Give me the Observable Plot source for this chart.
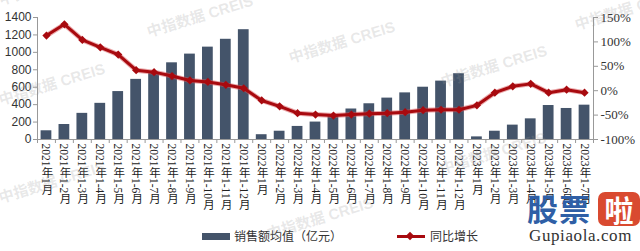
<!DOCTYPE html>
<html><head><meta charset="utf-8">
<script src="https://cdn.jsdelivr.net/npm/d3@7"></script>
<script src="https://cdn.jsdelivr.net/npm/@observablehq/plot@0.6"></script>
<style>
body{margin:0;background:#fff;width:640px;height:251px;overflow:hidden;position:relative;font-family:"Liberation Serif","Noto Sans CJK SC",serif}
#chart svg{display:block}
#legend{position:absolute;left:0;top:222px;width:640px;height:29px;font-size:12px;color:#333}
.sw{position:absolute}
.wm{position:absolute;white-space:nowrap;font:bold 15px "Liberation Sans","Noto Sans CJK SC",sans-serif;color:rgba(150,150,150,0.22);transform:rotate(-17deg);transform-origin:left bottom;pointer-events:none}
#logo{position:absolute;left:527px;top:191px;width:113px;height:58px}
</style></head><body>
<div id="chart"></div>
<div id="legend">
  <div class="sw" style="left:202px;top:11px;width:28px;height:7px;background:#44546A"></div>
  <div class="sw" style="left:234px;top:5px;">销售额均值（亿元）</div>
  <div class="sw" style="left:397px;top:13px;width:28px;height:3px;background:#a80a0f"></div>
  <div class="sw" style="left:407px;top:10.5px;width:6px;height:6px;background:#a80a0f;transform:rotate(45deg)"></div>
  <div class="sw" style="left:430px;top:5px;">同比增长</div>
</div>
<div class="wm" style="left:150px;top:20px">中指数据 CREIS</div>
<div class="wm" style="left:2px;top:-12px">中指数据 CREIS</div>
<div class="wm" style="left:2px;top:88px">中指数据 CREIS</div>
<div class="wm" style="left:292px;top:46px">中指数据 CREIS</div>
<div class="wm" style="left:444px;top:70px">中指数据 CREIS</div>
<div class="wm" style="left:578px;top:13px">中指数据 CREIS</div>
<div class="wm" style="left:2px;top:186px">中指数据 CREIS</div>
<div class="wm" style="left:443px;top:157px">中指数据 CREIS</div>
<div class="wm" style="left:270px;top:222px">中指数据 CREIS</div>
<div id="logo">
  <div style="position:absolute;left:0;top:0;font:bold 31px 'Noto Sans CJK SC',sans-serif;color:#2f5fa6;line-height:34px;letter-spacing:1px">股票</div>
  <div style="position:absolute;left:71px;top:1px;width:42px;height:34px;background:#d94a30;border-radius:7px;color:#fff;font:bold 29px 'Noto Sans CJK SC',sans-serif;line-height:34px;text-align:center">啦</div>
  <div style="position:absolute;left:2px;top:35px;font:17px 'Liberation Serif',serif;color:#333;letter-spacing:0.6px">Gupiaola.com</div>
</div>
<script>
const categories = [
  "2021年1月","2021年1-2月","2021年1-3月","2021年1-4月","2021年1-5月","2021年1-6月",
  "2021年1-7月","2021年1-8月","2021年1-9月","2021年1-10月","2021年1-11月","2021年1-12月",
  "2022年1月","2022年1-2月","2022年1-3月","2022年1-4月","2022年1-5月","2022年1-6月",
  "2022年1-7月","2022年1-8月","2022年1-9月","2022年1-10月","2022年1-11月","2022年1-12月",
  "2023年1月","2023年1-2月","2023年1-3月","2023年1-4月","2023年1-5月","2023年1-6月","2023年1-7月"
];
const sales = [100,172,300,415,550,690,770,880,980,1060,1150,1260,
               55,95,150,200,275,350,410,475,535,600,670,755,
               30,95,165,237,390,356,394];
const growth = [113,136,104,89,74,42,38,30,21,18,12,5,
                -20,-32,-46,-49,-51,-49,-47,-46,-44,-40,-39,-39,
                -30,-4,9,14,-4,2,-4];
const leftTicks = [0,200,400,600,800,1000,1200,1400];
const pctTicks = [-100,-50,0,50,100,150];

const toL = p => (p + 100) / 250 * 1400;
const fromL = v => Math.round(v / 1400 * 250 - 100);
const idx = d3.range(categories.length);
const n = categories.length;
const axisColor = "#999";
const red = "#a80a0f";

const svg = Plot.plot({
  width: 640, height: 222,
  marginLeft: 37, marginRight: 47, marginTop: 17, marginBottom: 83,
  x: {type: "linear", domain: [-0.5, n - 0.5], axis: null},
  y: {domain: [0, 1400], axis: null},
  style: {fontFamily: "'Liberation Serif','Noto Sans CJK SC',serif", fontSize: "12px", color: "#333", background: "#fff"},
  marks: [
    Plot.rectY(idx, {x1: i => i - 0.3, x2: i => i + 0.3, y: i => sales[i], fill: "#44546A"}),
    Plot.ruleY([0], {x1: -0.5, x2: n - 0.5, stroke: axisColor}),
    Plot.ruleX([-0.5, n - 0.5], {y1: 0, y2: 1400, stroke: axisColor}),
    Plot.ruleX(d3.range(n + 1), {x: i => i - 0.5, y1: 0, y2: -46, stroke: axisColor}),
    Plot.axisY({anchor: "left", ticks: leftTicks, tickFormat: d => String(d), tickSize: 4, tickPadding: 2, stroke: axisColor}),
    Plot.axisY({anchor: "right", ticks: pctTicks.map(toL), tickFormat: v => fromL(v) + "%", tickSize: 4, tickPadding: 3, stroke: axisColor}),
    Plot.line(idx, {x: i => i, y: i => toL(growth[i]), stroke: "#d8555a", strokeWidth: 5, strokeOpacity: 0.5}),
    Plot.line(idx, {x: i => i, y: i => toL(growth[i]), stroke: red, strokeWidth: 3}),
    Plot.dot(idx, {x: i => i, y: i => toL(growth[i]), symbol: "diamond2", r: 3.7, fill: red, stroke: null}),
    Plot.text(idx, {x: i => i, text: i => categories[i], frameAnchor: "bottom", dy: 4, fontSize: 11.5, ariaLabel: () => "xlab", fill: "#222"})
  ]
});
document.getElementById("chart").appendChild(svg);

d3.select(svg).selectAll('g[aria-label="y-axis tick label"] text').each(function() {
  if (!this.textContent.includes("%")) {
    this.setAttribute("font-family", "'Liberation Sans',Arial,sans-serif");
  } else {
    this.setAttribute("font-size", "13px");
  }
});
d3.select(svg).selectAll('text[aria-label="xlab"]').each(function() {
  this.removeAttribute("dy");
  this.removeAttribute("aria-label");
  this.setAttribute("text-anchor", "start");
  this.setAttribute("writing-mode", "tb");
  this.style.writingMode = "vertical-rl";
});
</script>
</body></html>
